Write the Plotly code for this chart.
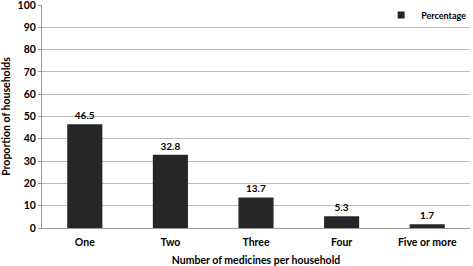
import plotly.graph_objects as go

categories = ["One", "Two", "Three", "Four", "Five or more"]
values = [46.5, 32.8, 13.7, 5.3, 1.7]
y_ticks = [0, 10, 20, 30, 40, 50, 60, 70, 80, 90, 100]

font_family = "Lato, Open Sans, sans-serif"
bar_color = "#262626"

fig = go.Figure()
fig.add_trace(go.Bar(
    x=categories, y=values, name="Percentage", showlegend=False,
    marker=dict(color=bar_color, line=dict(width=0)),
    width=0.41,
    text=[f"{v:.1f}" for v in values], textposition="outside",
    textfont=dict(size=10, color="#000", family=font_family, weight="bold"),
    cliponaxis=False,
))
# legend-only entry with a small square swatch
fig.add_trace(go.Scatter(
    x=[None], y=[None], mode="markers", name="Percentage",
    marker=dict(symbol="square", size=7, color=bar_color),
))
fig.update_layout(
    width=473, height=266,
    margin=dict(l=42, r=1, t=5, b=38),
    paper_bgcolor="white", plot_bgcolor="white",
    font=dict(family=font_family, size=10, color="#000", weight="bold"),
    showlegend=True,
    legend=dict(x=1.005, y=1.02, xanchor="right", yanchor="top", bgcolor="rgba(0,0,0,0)",
                font=dict(size=9, weight="bold"), itemwidth=30),
    bargap=0.59,
)
fig.update_xaxes(
    showline=True, linecolor="#999", linewidth=1, automargin=False,
    ticks="", tickfont=dict(size=10.5, weight="bold"), ticklabelstandoff=4,
    title=dict(text="Number of medicines per household", font=dict(size=10.5, weight="bold"), standoff=13),
)
fig.update_yaxes(
    range=[0, 100], tickvals=y_ticks, showgrid=True, gridcolor="#bbbbbb", gridwidth=1,
    showline=True, linecolor="#999", linewidth=1, automargin=False,
    ticks="outside", ticklen=3, tickcolor="#999", ticklabeloverflow="allow",
    tickfont=dict(size=10.5, weight="bold"),
    title=dict(text="Proportion of households", font=dict(size=10.5, weight="bold"), standoff=7),
    zeroline=False,
)
fig.write_html("out.html", config={"displayModeBar": False},
               post_script="document.body.style.margin='0';")
